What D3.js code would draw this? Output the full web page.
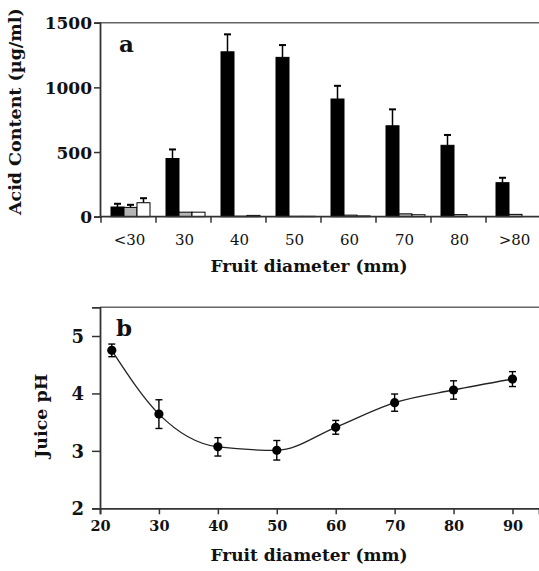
<!DOCTYPE html>
<html>
<head>
<meta charset="utf-8">
<script src="https://cdn.jsdelivr.net/npm/d3@7"></script>
<style>
body { margin:0; background:#fff; }
svg text { font-family:"DejaVu Serif", serif; fill:#111; }
</style>
</head>
<body>
<div id="chart"></div>
<script>
//############### Data ###############
// panel a : acid content per fruit size class
var sizeClasses = ["<30","30","40","50","60","70","80",">80"];
var seriesNames = ["black","gray","white"];
var blackValues = [75, 450, 1275, 1232, 910, 703, 552, 263];
var blackErrors = [25, 70, 135, 95, 102, 127, 80, 38];
var grayValues  = [72, 35, 4, 3, 12, 22, 16, 18];
var grayErrors  = [20, 0, 0, 0, 0, 0, 0, 0];
var whiteValues = [108, 35, 10, 3, 6, 15, 0, 0];
var whiteErrors = [35, 0, 0, 0, 0, 0, 0, 0];
var acidTicks = [0, 500, 1000, 1500];

// panel b : juice pH vs diameter
var diameters = [22, 30, 40, 50, 60, 70, 80, 90];
var phValues  = [4.75, 3.64, 3.07, 3.01, 3.41, 3.84, 4.06, 4.25];
var phErrors  = [0.11, 0.25, 0.16, 0.17, 0.12, 0.15, 0.16, 0.13];
var diamTicks = [20, 30, 40, 50, 60, 70, 80, 90];
var phTicks = [2, 3, 4, 5];

var width = 539, height = 571;
var svg = d3.select("#chart").append("svg").attr("width",width).attr("height",height);

var axisColor = "#333";

//############### Panel a ###############
var aTop = 22.7, aBottom = 216.7, aLeft = 100;
var ya = d3.scaleLinear().domain([0,1500]).range([aBottom,aTop]);
var xa = d3.scaleBand().domain(sizeClasses).range([101, 541]);
var xs = d3.scaleBand().domain(seriesNames).range([10, 49]);
var fills = {black:"#000", gray:"#b4b4b4", white:"#fff"};

var barData = [];
sizeClasses.forEach(function(c,i){
	barData.push({cls:c, s:"black", v:blackValues[i], e:blackErrors[i]});
	barData.push({cls:c, s:"gray", v:grayValues[i], e:grayErrors[i]});
	barData.push({cls:c, s:"white", v:whiteValues[i], e:whiteErrors[i]});
});

var ga = svg.append("g");
// top frame line
ga.append("line").attr("x1",aLeft).attr("x2",width).attr("y1",aTop).attr("y2",aTop)
	.attr("stroke","#666").attr("stroke-width",1.5);

// error bars (drawn under bars)
var errs = ga.selectAll("g.err").data(barData.filter(function(d){ return d.e > 0; }))
	.enter().append("g").attr("class","err")
	.attr("stroke","#000").attr("stroke-width",1.5);
errs.append("line")
	.attr("x1",function(d){ return xa(d.cls)+xs(d.s)+xs.bandwidth()/2; })
	.attr("x2",function(d){ return xa(d.cls)+xs(d.s)+xs.bandwidth()/2; })
	.attr("y1",function(d){ return ya(d.v); })
	.attr("y2",function(d){ return ya(d.v+d.e); });
errs.append("line")
	.attr("x1",function(d){ return xa(d.cls)+xs(d.s)+xs.bandwidth()/2-3.5; })
	.attr("x2",function(d){ return xa(d.cls)+xs(d.s)+xs.bandwidth()/2+3.5; })
	.attr("y1",function(d){ return ya(d.v+d.e); })
	.attr("y2",function(d){ return ya(d.v+d.e); })
	.attr("stroke-width",2);

ga.selectAll("rect.bar").data(barData.filter(function(d){ return d.v > 0; }))
	.enter().append("rect").attr("class","bar")
	.attr("x",function(d){ return xa(d.cls)+xs(d.s); })
	.attr("width",xs.bandwidth())
	.attr("y",function(d){ return ya(d.v); })
	.attr("height",function(d){ return ya(0)-ya(d.v); })
	.attr("fill",function(d){ return fills[d.s]; })
	.attr("stroke","#000").attr("stroke-width",1);

// axes
var yaxisA = d3.axisLeft(ya).tickValues(acidTicks).tickSize(6).tickPadding(2).tickFormat(d3.format("d"));
var gya = ga.append("g").attr("transform","translate("+aLeft+",0)").call(yaxisA);
gya.selectAll("text").attr("font-size",17).attr("font-weight","bold").attr("dy","0.36em");

var boundaries = sizeClasses.map(function(c){ return xa(c); });
ga.append("line").attr("x1",aLeft).attr("x2",width).attr("y1",aBottom).attr("y2",aBottom)
	.attr("stroke",axisColor).attr("stroke-width",1.8);
ga.selectAll("line.xt").data(boundaries).enter().append("line").attr("class","xt")
	.attr("x1",function(d){ return d; }).attr("x2",function(d){ return d; })
	.attr("y1",aBottom).attr("y2",aBottom+6)
	.attr("stroke",axisColor).attr("stroke-width",1.5);
ga.selectAll("text.xl").data(sizeClasses).enter().append("text").attr("class","xl")
	.attr("x",function(d){ return xa(d)+xa.bandwidth()/2+1; })
	.attr("y",245).attr("text-anchor","middle").attr("font-size",15)
	.text(function(d){ return d; });

ga.append("text").attr("x",309).attr("y",272).attr("text-anchor","middle")
	.attr("font-size",17).attr("font-weight","bold").text("Fruit diameter (mm)");
ga.append("text").attr("transform","translate(21,"+((aTop+aBottom)/2-8)+") rotate(-90)")
	.attr("text-anchor","middle").attr("font-size",17.5).attr("font-weight","bold")
	.text("Acid Content (µg/ml)");
ga.append("text").attr("x",119).attr("y",52).attr("font-size",23).attr("font-weight","bold").text("a");

//############### Panel b ###############
var bTop = 307.3, bBottom = 508.3, bLeft = 100;
var xb = d3.scaleLinear().domain([20,94.5]).range([bLeft,width]);
var yb = d3.scaleLinear().domain([2,5.5]).range([bBottom,bTop]);

var gb = svg.append("g");
gb.append("line").attr("x1",bLeft).attr("x2",width).attr("y1",bTop).attr("y2",bTop)
	.attr("stroke","#666").attr("stroke-width",1.5);

var yaxisB = d3.axisLeft(yb).tickValues(phTicks).tickSize(8).tickPadding(8).tickFormat(d3.format("d"));
var gyb = gb.append("g").attr("transform","translate("+bLeft+",0)").call(yaxisB);
gyb.selectAll("text").attr("font-size",18).attr("font-weight","bold").attr("dy","0.36em");

var xaxisB = d3.axisBottom(xb).tickValues(diamTicks).tickSize(6).tickPadding(6).tickFormat(d3.format("d"));
var gxb = gb.append("g").attr("transform","translate(0,"+bBottom+")").call(xaxisB);
gxb.selectAll("text").attr("font-size",14.5).attr("font-weight","bold");

[gya, gyb, gxb].forEach(function(g){
	g.select(".domain").attr("stroke",axisColor).attr("stroke-width",1.8);
	g.selectAll(".tick line").attr("stroke",axisColor).attr("stroke-width",1.5);
});

var phData = diameters.map(function(d,i){ return {x:d, y:phValues[i], e:phErrors[i]}; });
var line = d3.line().x(function(d){ return xb(d.x); }).y(function(d){ return yb(d.y); })
	.curve(d3.curveMonotoneX);
gb.append("path").datum(phData).attr("d",line).attr("fill","none")
	.attr("stroke","#222").attr("stroke-width",1.3);

var pe = gb.selectAll("g.perr").data(phData).enter().append("g").attr("class","perr")
	.attr("stroke","#000").attr("stroke-width",1.4);
pe.append("line").attr("x1",function(d){ return xb(d.x); }).attr("x2",function(d){ return xb(d.x); })
	.attr("y1",function(d){ return yb(d.y-d.e); }).attr("y2",function(d){ return yb(d.y+d.e); });
pe.append("line").attr("x1",function(d){ return xb(d.x)-3.5; }).attr("x2",function(d){ return xb(d.x)+3.5; })
	.attr("y1",function(d){ return yb(d.y+d.e); }).attr("y2",function(d){ return yb(d.y+d.e); });
pe.append("line").attr("x1",function(d){ return xb(d.x)-3.5; }).attr("x2",function(d){ return xb(d.x)+3.5; })
	.attr("y1",function(d){ return yb(d.y-d.e); }).attr("y2",function(d){ return yb(d.y-d.e); });
gb.selectAll("circle").data(phData).enter().append("circle")
	.attr("cx",function(d){ return xb(d.x); }).attr("cy",function(d){ return yb(d.y); })
	.attr("r",4.6).attr("fill","#000");

gb.append("text").attr("x",309).attr("y",561).attr("text-anchor","middle")
	.attr("font-size",17).attr("font-weight","bold").text("Fruit diameter (mm)");
gb.append("text").attr("transform","translate(47,"+((bTop+bBottom)/2+8)+") rotate(-90)")
	.attr("text-anchor","middle").attr("font-size",17.5).attr("font-weight","bold").text("Juice pH");
gb.append("text").attr("x",116).attr("y",336).attr("font-size",23).attr("font-weight","bold").text("b");
</script>
</body>
</html>
